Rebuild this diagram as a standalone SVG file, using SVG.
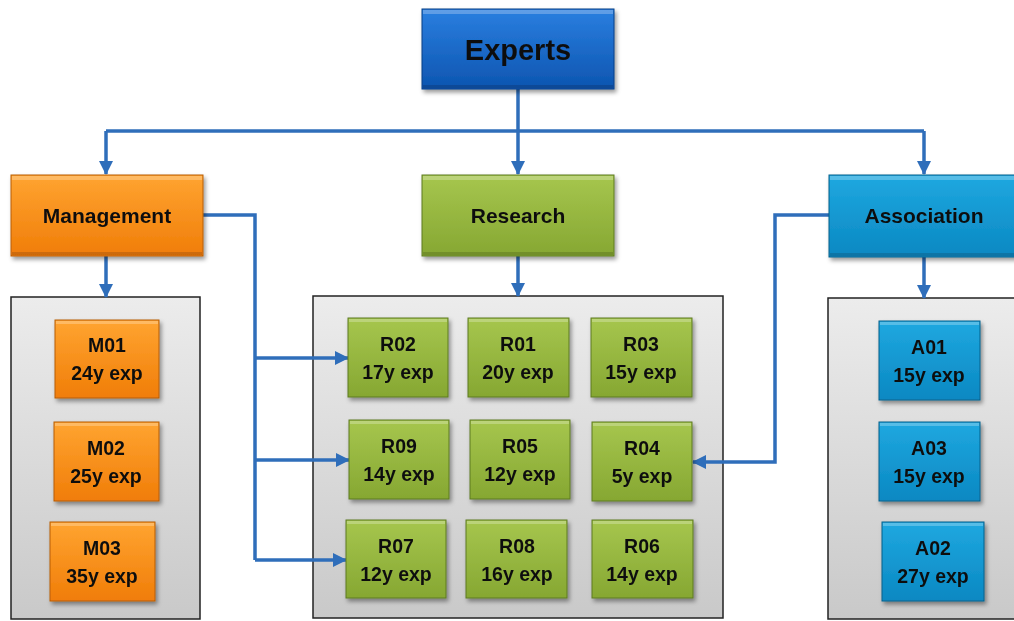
<svg xmlns="http://www.w3.org/2000/svg" width="1014" height="621" viewBox="0 0 1014 621">
<defs>
<linearGradient id="gBlue" x1="0" y1="0" x2="0" y2="1"><stop offset="0" stop-color="#2a7fe0"/><stop offset="1" stop-color="#0d55b0"/></linearGradient>
<linearGradient id="gOrange" x1="0" y1="0" x2="0" y2="1"><stop offset="0" stop-color="#ffa431"/><stop offset="1" stop-color="#f07d08"/></linearGradient>
<linearGradient id="gGreen" x1="0" y1="0" x2="0" y2="1"><stop offset="0" stop-color="#a6c64e"/><stop offset="1" stop-color="#86a732"/></linearGradient>
<linearGradient id="gCyan" x1="0" y1="0" x2="0" y2="1"><stop offset="0" stop-color="#1fa8e0"/><stop offset="1" stop-color="#0a88c2"/></linearGradient>
<linearGradient id="gGray" x1="0" y1="0" x2="0" y2="1"><stop offset="0" stop-color="#ececec"/><stop offset="1" stop-color="#c9c9c9"/></linearGradient>
<filter id="sh" x="-10%" y="-10%" width="125%" height="130%"><feDropShadow dx="2" dy="3" stdDeviation="2" flood-color="#000" flood-opacity="0.4"/></filter>
<marker id="arr" markerUnits="userSpaceOnUse" markerWidth="14" markerHeight="14" viewBox="0 0 14 14" refX="13" refY="7" orient="auto"><path d="M0,0 L14,7 L0,14 Z" fill="#2f6eba"/></marker>
<style>
.b{font-family:"Liberation Sans",Arial,sans-serif;font-weight:bold;fill:#111;text-anchor:middle}
.t{font-size:19.5px}
.box{filter:url(#sh)}
.blue{fill:url(#gBlue);stroke:#0a3f86;stroke-width:1}
.org{fill:url(#gOrange);stroke:#b75d06;stroke-width:1}
.grn{fill:url(#gGreen);stroke:#5d7a20;stroke-width:1}
.cyn{fill:url(#gCyan);stroke:#06618c;stroke-width:1}
.cont{fill:url(#gGray);stroke:#222;stroke-width:1.5}
.c{fill:none;stroke:#2f6eba;stroke-width:3.5}
.hl{fill:#fff;opacity:0.25}
.dk{fill:#000;opacity:0.15}
</style>
</defs>

<g id="containers">
<rect class="cont" x="11" y="297" width="189" height="322"/>
<rect class="cont" x="313" y="296" width="410" height="322"/>
<rect class="cont" x="828" y="298" width="190" height="321"/>
</g>

<g id="connectors">
<path class="c" d="M518,89 V131"/>
<path class="c" d="M106,131 H924"/>
<path class="c" d="M106,131 V174" marker-end="url(#arr)"/>
<path class="c" d="M518,131 V174" marker-end="url(#arr)"/>
<path class="c" d="M924,131 V174" marker-end="url(#arr)"/>
<path class="c" d="M106,256 V297" marker-end="url(#arr)"/>
<path class="c" d="M518,256 V296" marker-end="url(#arr)"/>
<path class="c" d="M924,257 V298" marker-end="url(#arr)"/>
<path class="c" d="M203,215 H255 V560"/>
<path class="c" d="M255,358 H348" marker-end="url(#arr)"/>
<path class="c" d="M255,460 H349" marker-end="url(#arr)"/>
<path class="c" d="M255,560 H346" marker-end="url(#arr)"/>
<path class="c" d="M829,215 H775 V462 H693" marker-end="url(#arr)"/>
</g>

<g id="experts" class="box"><rect class="blue" x="422" y="9" width="192" height="80"/><rect class="hl" x="423" y="10" width="190" height="4"/><rect class="dk" x="423" y="85" width="190" height="3"/><text class="b" x="518" y="60" font-size="29">Experts</text></g>
<g id="management" class="box"><rect class="org" x="11" y="175" width="192" height="81"/><rect class="hl" x="12" y="176" width="190" height="4"/><rect class="dk" x="12" y="252" width="190" height="3"/><text class="b" x="107" y="223" font-size="21">Management</text></g>
<g id="research" class="box"><rect class="grn" x="422" y="175" width="192" height="81"/><rect class="hl" x="423" y="176" width="190" height="4"/><rect class="dk" x="423" y="252" width="190" height="3"/><text class="b" x="518" y="223" font-size="21">Research</text></g>
<g id="association" class="box"><rect class="cyn" x="829" y="175" width="190" height="82"/><rect class="hl" x="830" y="176" width="188" height="4"/><rect class="dk" x="830" y="253" width="188" height="3"/><text class="b" x="924" y="223" font-size="21">Association</text></g>

<g id="M01" class="box"><rect class="org" x="55" y="320" width="104" height="78"/><rect class="hl" x="56" y="321" width="102" height="3"/><text class="b t" x="107" y="352">M01</text><text class="b t" x="107" y="380">24y exp</text></g>
<g id="M02" class="box"><rect class="org" x="54" y="422" width="105" height="79"/><rect class="hl" x="55" y="423" width="103" height="3"/><text class="b t" x="106" y="455">M02</text><text class="b t" x="106" y="483">25y exp</text></g>
<g id="M03" class="box"><rect class="org" x="50" y="522" width="105" height="79"/><rect class="hl" x="51" y="523" width="103" height="3"/><text class="b t" x="102" y="555">M03</text><text class="b t" x="102" y="583">35y exp</text></g>

<g id="R02" class="box"><rect class="grn" x="348" y="318" width="100" height="79"/><rect class="hl" x="349" y="319" width="98" height="3"/><text class="b t" x="398" y="351">R02</text><text class="b t" x="398" y="379">17y exp</text></g>
<g id="R01" class="box"><rect class="grn" x="468" y="318" width="101" height="79"/><rect class="hl" x="469" y="319" width="99" height="3"/><text class="b t" x="518" y="351">R01</text><text class="b t" x="518" y="379">20y exp</text></g>
<g id="R03" class="box"><rect class="grn" x="591" y="318" width="101" height="79"/><rect class="hl" x="592" y="319" width="99" height="3"/><text class="b t" x="641" y="351">R03</text><text class="b t" x="641" y="379">15y exp</text></g>
<g id="R09" class="box"><rect class="grn" x="349" y="420" width="100" height="79"/><rect class="hl" x="350" y="421" width="98" height="3"/><text class="b t" x="399" y="453">R09</text><text class="b t" x="399" y="481">14y exp</text></g>
<g id="R05" class="box"><rect class="grn" x="470" y="420" width="100" height="79"/><rect class="hl" x="471" y="421" width="98" height="3"/><text class="b t" x="520" y="453">R05</text><text class="b t" x="520" y="481">12y exp</text></g>
<g id="R04" class="box"><rect class="grn" x="592" y="422" width="100" height="79"/><rect class="hl" x="593" y="423" width="98" height="3"/><text class="b t" x="642" y="455">R04</text><text class="b t" x="642" y="483">5y exp</text></g>
<g id="R07" class="box"><rect class="grn" x="346" y="520" width="100" height="78"/><rect class="hl" x="347" y="521" width="98" height="3"/><text class="b t" x="396" y="553">R07</text><text class="b t" x="396" y="581">12y exp</text></g>
<g id="R08" class="box"><rect class="grn" x="466" y="520" width="101" height="78"/><rect class="hl" x="467" y="521" width="99" height="3"/><text class="b t" x="517" y="553">R08</text><text class="b t" x="517" y="581">16y exp</text></g>
<g id="R06" class="box"><rect class="grn" x="592" y="520" width="101" height="78"/><rect class="hl" x="593" y="521" width="99" height="3"/><text class="b t" x="642" y="553">R06</text><text class="b t" x="642" y="581">14y exp</text></g>

<g id="A01" class="box"><rect class="cyn" x="879" y="321" width="101" height="79"/><rect class="hl" x="880" y="322" width="99" height="3"/><text class="b t" x="929" y="354">A01</text><text class="b t" x="929" y="382">15y exp</text></g>
<g id="A03" class="box"><rect class="cyn" x="879" y="422" width="101" height="79"/><rect class="hl" x="880" y="423" width="99" height="3"/><text class="b t" x="929" y="455">A03</text><text class="b t" x="929" y="483">15y exp</text></g>
<g id="A02" class="box"><rect class="cyn" x="882" y="522" width="102" height="79"/><rect class="hl" x="883" y="523" width="100" height="3"/><text class="b t" x="933" y="555">A02</text><text class="b t" x="933" y="583">27y exp</text></g>
</svg>
